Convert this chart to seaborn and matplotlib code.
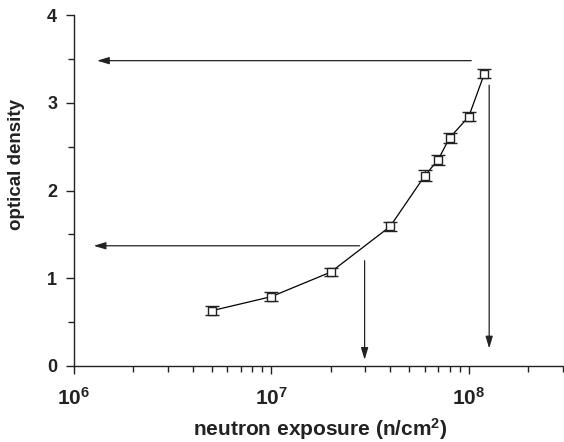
import numpy as np
import pandas as pd
import seaborn as sns
import matplotlib
matplotlib.use("Agg")
import matplotlib.pyplot as plt
from matplotlib.ticker import LogLocator, FixedLocator, MultipleLocator, NullFormatter, FuncFormatter

# data
exposure = [5e6, 1e7, 2e7, 4e7, 6e7, 7e7, 8e7, 1e8, 1.2e8]
density = [0.63, 0.79, 1.07, 1.59, 2.17, 2.35, 2.60, 2.84, 3.33]
density_err = [0.05, 0.05, 0.05, 0.05, 0.06, 0.06, 0.06, 0.05, 0.05]

# reading arrows: (x_start, y_start, x_end, y_end)
arrow_x_start = [1.03e8, 1.27e8, 2.8e7, 2.97e7]
arrow_y_start = [3.48, 3.2, 1.37, 1.2]
arrow_x_end = [1.31e6, 1.27e8, 1.26e6, 2.97e7]
arrow_y_end = [3.48, 0.2, 1.37, 0.07]

sns.set_theme(style="ticks")
plt.rcParams['font.family'] = ['Liberation Sans', 'DejaVu Sans']
plt.rcParams['mathtext.fontset'] = 'custom'
plt.rcParams['mathtext.bf'] = 'Liberation Sans:bold'
plt.rcParams['mathtext.rm'] = 'Liberation Sans:bold'
plt.rcParams['mathtext.it'] = 'Liberation Sans:bold'

INK = "#222222"

fig = plt.figure(figsize=(5.64, 4.42), dpi=100)
ax = fig.add_axes([0.131, 0.172, 0.867, 0.794])

df = pd.DataFrame({"exposure": exposure, "density": density})
sns.lineplot(data=df, x="exposure", y="density", ax=ax, color="black", lw=0.9)
ax.errorbar(exposure, density, yerr=density_err, fmt="s", ms=5.5, mfc="white",
            mec=INK, mew=1.0, ecolor=INK, elinewidth=1.0,
            capsize=5, capthick=1.0, zorder=3)

for xs, ys, xe, ye in zip(arrow_x_start, arrow_y_start, arrow_x_end, arrow_y_end):
    ax.annotate("", xy=(xe, ye), xytext=(xs, ys),
                arrowprops=dict(arrowstyle="-|>,head_length=0.6,head_width=0.18",
                                color=INK, lw=0.9, shrinkA=0, shrinkB=0))

ax.set_xscale("log")
ax.set_xlim(1e6, 3e8)
ax.set_ylim(0, 4)

ax.xaxis.set_major_locator(FixedLocator([1e6, 1e7, 1e8]))
ax.xaxis.set_minor_locator(LogLocator(base=10, subs=np.arange(2, 10)))
ax.xaxis.set_minor_formatter(NullFormatter())
ax.xaxis.set_major_formatter(FuncFormatter(lambda v, p: r"$\mathbf{10^{%d}}$" % int(round(np.log10(v)))))
ax.yaxis.set_major_locator(MultipleLocator(1))
ax.yaxis.set_minor_locator(MultipleLocator(0.5))

ax.tick_params(axis="both", which="major", length=6, width=1, direction="out",
               labelsize=13, colors=INK, pad=6)
ax.tick_params(axis="both", which="minor", length=4, width=1, direction="out", colors=INK)
ax.tick_params(axis="x", which="major", pad=9, labelsize=15)
for lbl in ax.get_yticklabels():
    lbl.set_fontweight("bold")

sns.despine(ax=ax)
for s in ["left", "bottom"]:
    ax.spines[s].set_linewidth(1)
    ax.spines[s].set_color(INK)

ax.set_xlabel(r"neutron exposure (n/cm$^{2}$)", fontsize=15, fontweight="bold",
              color=INK)
ax.xaxis.set_label_coords(0.505, -0.143)
ax.set_ylabel("optical density", fontsize=13.5, fontweight="bold", color=INK)
ax.yaxis.set_label_coords(-0.10, 0.575)

fig.savefig("out.png", dpi=100)
